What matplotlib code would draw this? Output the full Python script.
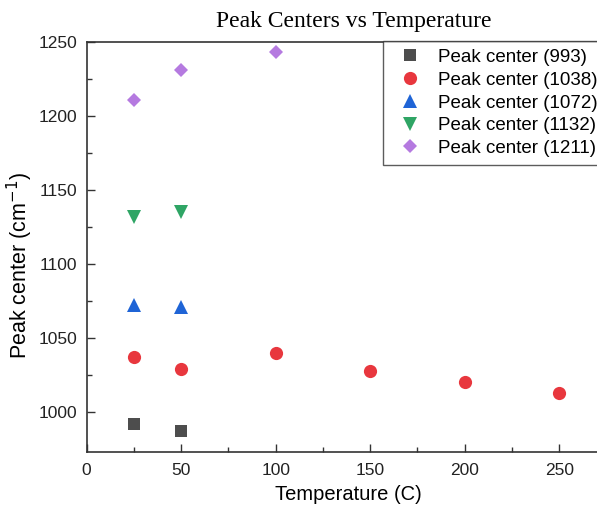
import matplotlib.pyplot as plt

# peak positions (cm^-1) tracked against temperature (C)
temp_993 = [25, 50]
peak_993 = [992, 987]
temp_1038 = [25, 50, 100, 150, 200, 250]
peak_1038 = [1037, 1029, 1040, 1028, 1020, 1013]
temp_1072 = [25, 50]
peak_1072 = [1072, 1071]
temp_1132 = [25, 50]
peak_1132 = [1132, 1135]
temp_1211 = [25, 50, 100]
peak_1211 = [1211, 1231, 1243]

series = [
    (temp_993, peak_993, 's', '#4d4d4d', 'Peak center (993)'),
    (temp_1038, peak_1038, 'o', '#e8373e', 'Peak center (1038)'),
    (temp_1072, peak_1072, '^', '#1f64d6', 'Peak center (1072)'),
    (temp_1132, peak_1132, 'v', '#2fa565', 'Peak center (1132)'),
    (temp_1211, peak_1211, 'D', '#b57ae0', 'Peak center (1211)'),
]
sizes = {'s': 8.3, 'o': 9.5, '^': 9.5, 'v': 9.5, 'D': 6.7}

plt.rcParams['font.family'] = ['Liberation Sans', 'DejaVu Sans']

fig = plt.figure(figsize=(5.97, 5.07), dpi=100)
# axes run past the right edge of the canvas
ax = fig.add_axes([0.1452, 0.1085, 0.877, 0.8085])

for x, y, m, c, lab in series:
    ax.plot(x, y, m, color=c, markersize=sizes[m], markeredgewidth=0, label=lab)

ax.set_xlim(0, 277)
ax.set_ylim(973, 1250)
ax.set_xticks([0, 50, 100, 150, 200, 250])
ax.set_xticks([25, 75, 125, 175, 225, 275], minor=True)
ax.set_yticks([1000, 1050, 1100, 1150, 1200, 1250])
ax.set_yticks([1025, 1075, 1125, 1175, 1225], minor=True)
ax.tick_params(which='both', direction='in', labelsize=12.5, color='#333333', labelcolor='#222222')
ax.tick_params(which='major', length=6, width=1)
ax.tick_params(which='minor', length=3.5, width=1)
ax.tick_params(axis='x', pad=8)
ax.tick_params(axis='y', pad=7)
for sp in ax.spines.values():
    sp.set_linewidth(1.2)
    sp.set_color('#333333')

ax.set_xlabel('Temperature (C)', fontsize=14.5, labelpad=5)
ax.set_ylabel('Peak center (cm$^{-1}$)', fontsize=15.5)
ax.yaxis.set_label_coords(-0.099, 0.455)
fig.text(0.592, 0.957, 'Peak Centers vs Temperature', ha='center', va='center',
         fontsize=17, family='Liberation Serif')

leg = ax.legend(loc='upper left', bbox_to_anchor=(383 / 597, 1 - 41 / 507),
                bbox_transform=fig.transFigure, fontsize=13.5, frameon=True,
                fancybox=False, borderaxespad=0, handletextpad=0.5,
                handlelength=2.0, labelspacing=0.3, borderpad=0.42)
leg.get_frame().set_edgecolor('#333333')
leg.get_frame().set_linewidth(1.0)

fig.savefig('out.png', dpi=100)
